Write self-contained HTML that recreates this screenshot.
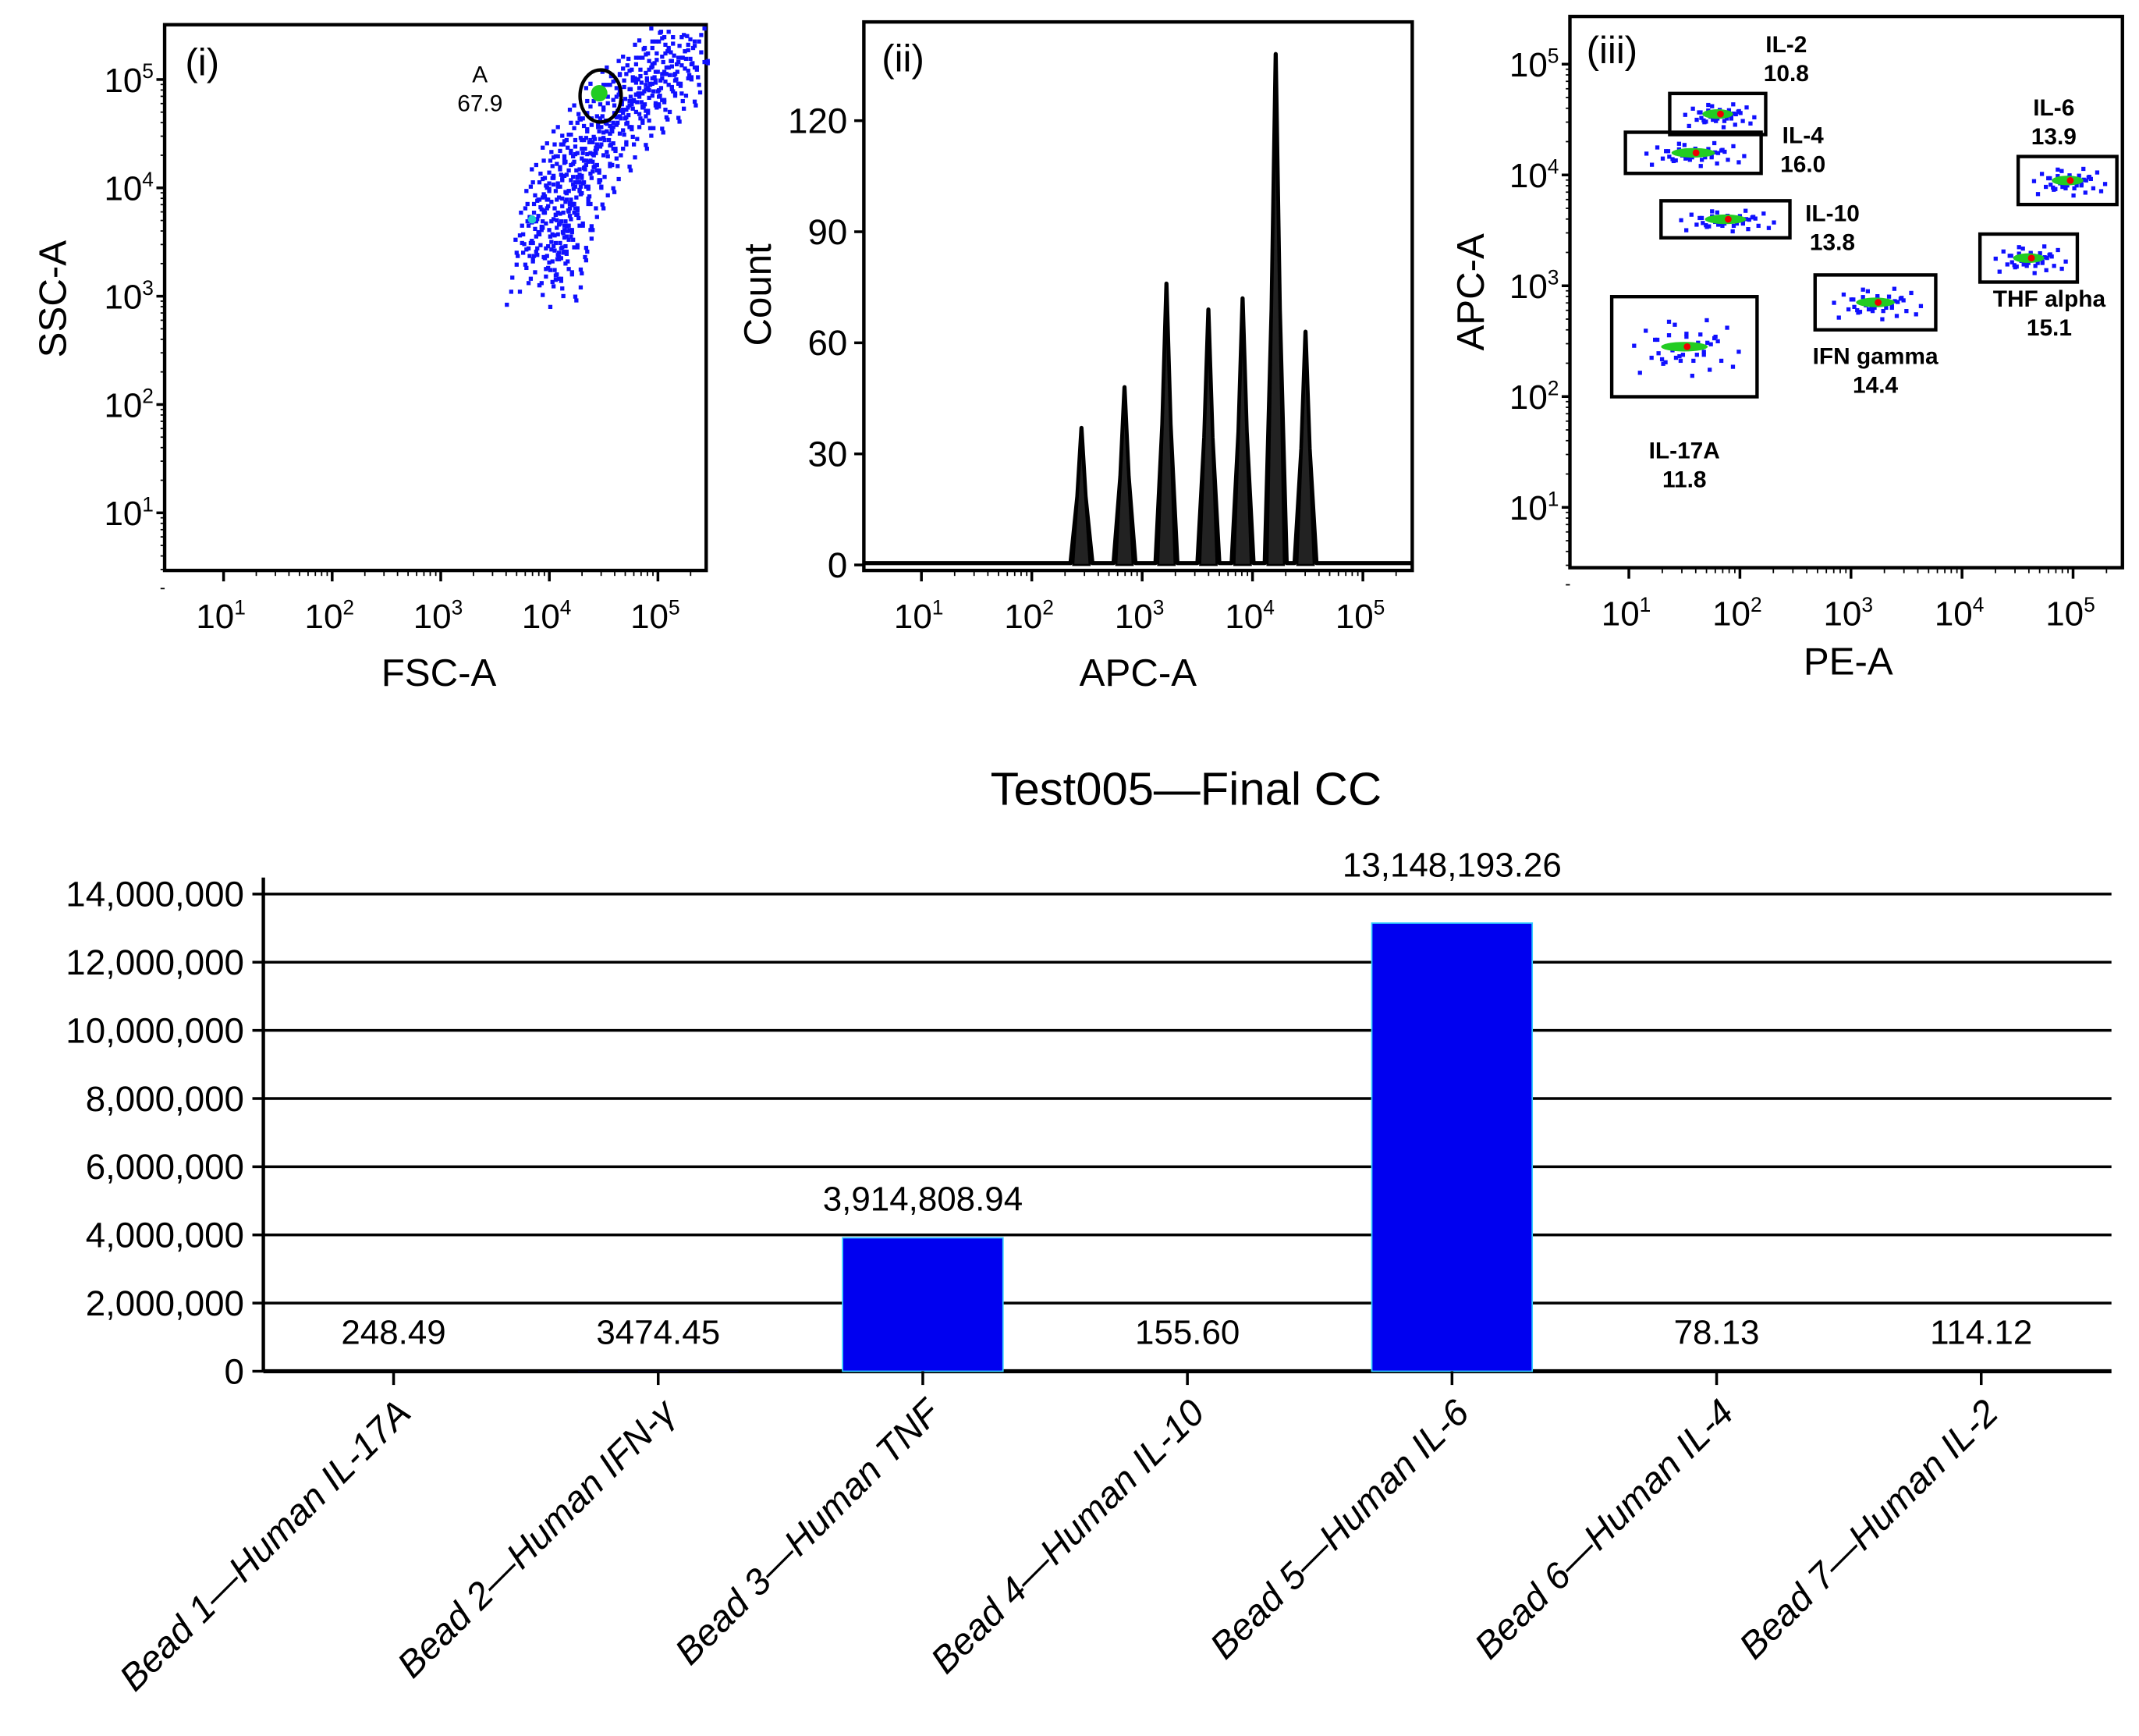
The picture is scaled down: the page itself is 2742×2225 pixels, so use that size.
<!DOCTYPE html>
<html><head><meta charset="utf-8"><style>
html,body{margin:0;padding:0;background:#fff}
svg{display:block}
text{font-family:"Liberation Sans",sans-serif;fill:#000}
</style></head><body>
<svg id="fig" width="2742" height="2225" viewBox="0 0 1560 1266" xmlns="http://www.w3.org/2000/svg">
<rect width="1560" height="1266" fill="#fff"/>
<g id="p1"></g>
<g id="p2"></g>
<g id="p3"></g>
<g id="p4"></g>
</svg>
<script>
// ---- Bar chart data ----
const barCategories = ["Bead 1\u2014Human IL-17A","Bead 2\u2014Human IFN-\u03b3","Bead 3\u2014Human TNF","Bead 4\u2014Human IL-10","Bead 5\u2014Human IL-6","Bead 6\u2014Human IL-4","Bead 7\u2014Human IL-2"];
const barValues = [248.49, 3474.45, 3914808.94, 155.60, 13148193.26, 78.13, 114.12];
const barValueLabels = ["248.49","3474.45","3,914,808.94","155.60","13,148,193.26","78.13","114.12"];
const barYTicks = [0,2000000,4000000,6000000,8000000,10000000,12000000,14000000];
const barYTickLabels = ["0","2,000,000","4,000,000","6,000,000","8,000,000","10,000,000","12,000,000","14,000,000"];
// ---- Histogram data (log10 APC-A peak position, count) ----
const histPeakPos = [2.45, 2.84, 3.22, 3.60, 3.91, 4.21, 4.48];
const histPeakCount = [37, 48, 76, 69, 72, 138, 63];
const histYTicks = [0,30,60,90,120];
// ---- Panel iii gates ----
const gateNames = ["IL-2","IL-4","IL-10","IL-6","THF alpha","IFN gamma","IL-17A"];
const gatePct = ["10.8","16.0","13.8","13.9","15.1","14.4","11.8"];
const gateCenterX = [1.8, 1.58, 1.87, 4.95, 4.6, 3.22, 1.5]; // log10 PE-A
const gateCenterY = [4.55, 4.2, 3.6, 3.95, 3.25, 2.85, 2.45]; // log10 APC-A
// ---- Panel i cloud ----
const p1CloudX = [3.95,4.0,4.05,4.1,4.2,4.3,4.45,4.6,4.75,4.9,5.05,5.2];
const p1CloudY = [3.3,3.55,3.75,3.95,4.15,4.3,4.5,4.7,4.85,4.95,5.1,5.25];

const NS="http://www.w3.org/2000/svg";
function el(tag,attrs,parent,txt){const e=document.createElementNS(NS,tag);for(const k in attrs)e.setAttribute(k,attrs[k]);if(txt!==undefined)e.textContent=txt;parent.appendChild(e);return e;}
const jit=[[-.6,.3],[.5,-.4],[-.2,-.8],[.8,.6],[-.9,-.1],[.1,.9],[.3,.2],[-.4,.5],[.7,-.7],[-.7,-.6],[.2,-.2],[-.1,.4],[.9,.1],[-.5,-.3],[.4,.7],[-.8,.8],[.6,.4],[0,-.5],[-.3,-.9],[.35,-.95]];
const logSup=["1","2","3","4","5"];
function logLabel(g,x,y,p,anchor,name){
  const t=el('text',{x:x,y:y,'font-size':25,'text-anchor':anchor},g);
  
  el('tspan',{},t,'10');el('tspan',{dy:-10,'font-size':15},t,logSup[p-1]);
}

// ===== Panel i =====
(function(){
  const g=document.getElementById('p1');
  const L=120,R=515,T=18,B=416;
  const xs=v=>163+(v-1)*79.2, ys=v=>374-(v-1)*79;
  el('rect',{x:L,y:T,width:R-L,height:B-T,fill:'none',stroke:'#000','stroke-width':2.5},g);
  for(let p=1;p<=5;p++){
    el('line',{x1:L,x2:L-6,y1:ys(p),y2:ys(p),stroke:'#000','stroke-width':2},g);
    el('line',{x1:xs(p),x2:xs(p),y1:B,y2:B+8,stroke:'#000','stroke-width':2},g);
    logLabel(g,L-8,ys(p)+9,p,'end','y-tick-label');
    logLabel(g,xs(p)-2,B+42,p,'middle','x-tick-label');
    for(let m=2;m<10;m++){const d=Math.log10(m);
      if(p+d<5.4)el('line',{x1:xs(p+d),x2:xs(p+d),y1:B,y2:B+4,stroke:'#000','stroke-width':1},g);
      el('line',{x1:L,x2:L-3,y1:ys(p-1+d),y2:ys(p-1+d),stroke:'#000','stroke-width':1},g);}
  }
  const d=el('g',{},g);
  for(let i=0;i<p1CloudX.length;i++){
    for(let k=0;k<jit.length;k++)for(let r=0;r<3;r++){
      const xx=xs(p1CloudX[i]+jit[k][0]*0.2*(1+r*0.5)), yy=ys(p1CloudY[i]+jit[(k+r*7)%20][1]*0.2*(1+r*0.5));
      if(xx>L&&xx<R&&yy>T&&yy<B)el('rect',{x:xx,y:yy,width:3,height:3,fill:'#1010ff'},d);
    }
  }
  el('circle',{cx:437,cy:68,r:6,fill:'#2c2'},g);
  el('circle',{cx:388,cy:160,r:3,fill:'#2cc'},g);
  el('ellipse',{cx:438,cy:70,rx:15,ry:19,fill:'none',stroke:'#000','stroke-width':2.5},g);
  el('text',{x:350,y:60,'font-size':17,'text-anchor':'middle'},g,'A');
  el('text',{x:350,y:81,'font-size':17,'text-anchor':'middle'},g,'67.9');
  el('text',{x:135,y:55,'font-size':28,'font-family':'Liberation Serif'},g,'(i)');
  el('text',{x:320,y:500,'font-size':28,'text-anchor':'middle'},g,'FSC-A');
  el('text',{x:0,y:0,'font-size':28,'text-anchor':'middle',transform:'translate(48,218) rotate(-90)'},g,'SSC-A');
})();

// ===== Panel ii =====
(function(){
  const g=document.getElementById('p2');
  const L=630,R=1030,T=16,B=416;
  const xs=v=>672+(v-1)*80.5, ys=v=>412-v*2.7;
  el('rect',{x:L,y:T,width:R-L,height:B-T,fill:'none',stroke:'#000','stroke-width':2.5},g);
  for(let p=1;p<=5;p++){
    el('line',{x1:xs(p),x2:xs(p),y1:B,y2:B+8,stroke:'#000','stroke-width':2},g);
    logLabel(g,xs(p)-2,B+42,p,'middle','x-tick-label');
    for(let m=2;m<10;m++){const d=Math.log10(m);if(p+d<5.4)el('line',{x1:xs(p+d),x2:xs(p+d),y1:B,y2:B+4,stroke:'#000','stroke-width':1},g);}
  }
  histYTicks.forEach(v=>{
    el('line',{x1:L,x2:L-7,y1:ys(v),y2:ys(v),stroke:'#000','stroke-width':2},g);
    const t=el('text',{x:L-12,y:ys(v)+9,'font-size':26,'text-anchor':'end'},g,String(v));
    
  });
  let dpath='M'+L+','+ys(0.5);
  const pts=histPeakPos.map((p,i)=>({x:xs(p),h:histPeakCount[i]})).sort((a,b)=>a.x-b.x);
  pts.forEach(pk=>{dpath+=` L${pk.x-8},${ys(0.5)} L${pk.x-3},${ys(pk.h*0.5)} L${pk.x},${ys(pk.h)} L${pk.x+3},${ys(pk.h*0.5)} L${pk.x+8},${ys(0.5)}`;});
  dpath+=` L${R},${ys(0.5)}`;
  const h=el('path',{d:dpath,fill:'none',stroke:'#000','stroke-width':3,'stroke-linejoin':'round'},g);
  
  pts.forEach(pk=>{el('path',{d:`M${pk.x-6},${ys(0)} L${pk.x},${ys(pk.h*0.9)} L${pk.x+6},${ys(0)} Z`,fill:'#222',stroke:'#000','stroke-width':1.5},g);});
  el('text',{x:643,y:52,'font-size':28,'font-family':'Liberation Serif'},g,'(ii)');
  el('text',{x:830,y:500,'font-size':28,'text-anchor':'middle'},g,'APC-A');
  el('text',{x:0,y:0,'font-size':28,'text-anchor':'middle',transform:'translate(562,215) rotate(-90)'},g,'Count');
})();

// ===== Panel iii =====
(function(){
  const g=document.getElementById('p3');
  const L=1145,R=1548,T=12,B=414;
  const xs=v=>1188+(v-1)*81, ys=v=>370-(v-1)*80.8;
  el('rect',{x:L,y:T,width:R-L,height:B-T,fill:'none',stroke:'#000','stroke-width':2.5},g);
  for(let p=1;p<=5;p++){
    el('line',{x1:L,x2:L-6,y1:ys(p),y2:ys(p),stroke:'#000','stroke-width':2},g);
    el('line',{x1:xs(p),x2:xs(p),y1:B,y2:B+8,stroke:'#000','stroke-width':2},g);
    logLabel(g,L-8,ys(p)+9,p,'end','y-tick-label');
    logLabel(g,xs(p)-2,B+42,p,'middle','x-tick-label');
    for(let m=2;m<10;m++){const d=Math.log10(m);
      if(p+d<5.4)el('line',{x1:xs(p+d),x2:xs(p+d),y1:B,y2:B+4,stroke:'#000','stroke-width':1},g);
      el('line',{x1:L,x2:L-3,y1:ys(p-1+d),y2:ys(p-1+d),stroke:'#000','stroke-width':1},g);}
  }
  const gw=[70,99,94,72,71,88,106], gh=[30,30,27,35,35,40,73];
  const lblDx=[50,80,78,-10,15,0,0], lblDy=[-60,-22,-15,-60,28,35,55];
  gateNames.forEach((n,i)=>{
    const cx=xs(gateCenterX[i]), cy=ys(gateCenterY[i]);
    const grp=el('g',{},g);
    for(let k=0;k<jit.length;k++)for(let r=0;r<2;r++){
      el('rect',{x:cx+jit[k][0]*gw[i]*0.4*(r?0.6:1),y:cy+jit[(k+5*r)%20][1]*gh[i]*0.3*(r?0.5:1),width:3,height:3,fill:'#1010ff'},grp);
    }
    el('ellipse',{cx:cx,cy:cy,rx:gw[i]*0.16,ry:3.5,fill:'#2c2'},grp);
    el('circle',{cx:cx+2,cy:cy,r:2.5,fill:'#e00'},grp);
    el('rect',{x:cx-gw[i]/2,y:cy-gh[i]/2,width:gw[i],height:gh[i],fill:'none',stroke:'#000','stroke-width':2.5},grp);
    const ly=(lblDy[i]<0?cy-gh[i]/2+lblDy[i]+30:cy+gh[i]/2+lblDy[i]-10);
    el('text',{x:cx+lblDx[i],y:ly,'font-size':17,'font-weight':'bold','text-anchor':'middle'},grp,n);
    el('text',{x:cx+lblDx[i],y:ly+21,'font-size':17,'font-weight':'bold','text-anchor':'middle'},grp,gatePct[i]);
  });
  el('text',{x:1157,y:46,'font-size':28,'font-family':'Liberation Serif'},g,'(iii)');
  el('text',{x:1348,y:492,'font-size':28,'text-anchor':'middle'},g,'PE-A');
  el('text',{x:0,y:0,'font-size':28,'text-anchor':'middle',transform:'translate(1082,213) rotate(-90)'},g,'APC-A');
})();

// ===== Bar chart =====
(function(){
  const g=document.getElementById('p4');
  const L=192,R=1540,y0=1000,yTop=652,maxV=14000000;
  const ys=v=>y0-(v/maxV)*(y0-yTop);
  const step=193, xc=i=>287+i*step, bw=117;
  const tt=el('text',{x:865,y:587,'font-size':34,'text-anchor':'middle'},g,'Test005\u2014Final CC');
  
  barYTicks.forEach((v,i)=>{
    el('line',{x1:L,x2:R,y1:ys(v),y2:ys(v),stroke:'#000','stroke-width':v===0?3:2},g);
    el('line',{x1:L-8,x2:L,y1:ys(v),y2:ys(v),stroke:'#000','stroke-width':2},g);
    const t=el('text',{x:L-14,y:ys(v)+9,'font-size':26,'text-anchor':'end'},g,barYTickLabels[i]);
    
  });
  el('line',{x1:L,x2:L,y1:640,y2:y0,stroke:'#000','stroke-width':2.5},g);
  barValues.forEach((v,i)=>{
    const top=ys(v);
    const big=(y0-top)>2;
    const b=el('rect',{x:xc(i)-bw/2,y:top,width:bw,height:y0-top,fill:'#0000f0',stroke:big?'#3cf':'none','stroke-width':1},g);
    
    
    let ly=big?top-20:y0-20;
    if(big && top<yTop+40) ly=top-34;
    const lt=el('text',{x:xc(i),y:ly,'font-size':25,'text-anchor':'middle'},g,barValueLabels[i]);
    
    el('line',{x1:xc(i),x2:xc(i),y1:y0,y2:y0+10,stroke:'#000','stroke-width':2},g);
    const xl=el('text',{x:0,y:0,'font-size':27,'font-style':'italic','text-anchor':'end',transform:`translate(${xc(i)+14},${y0+32}) rotate(-45)`},g,barCategories[i]);
    
  });
})();
</script>
</body></html>
